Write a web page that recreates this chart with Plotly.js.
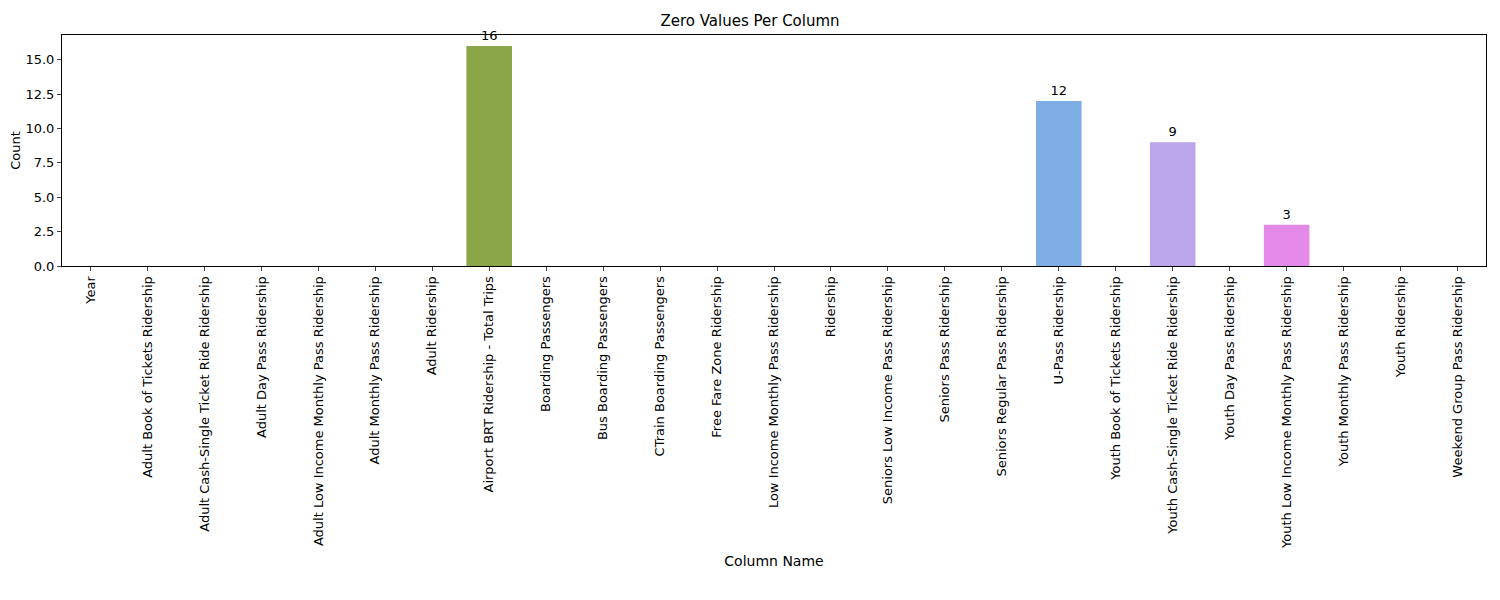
<!DOCTYPE html>
<html>
<head>
<script src="https://cdn.plot.ly/plotly-3.0.1.min.js"></script>
<style>body{margin:0;}</style>
</head>
<body>
<div id="chart" style="width:1500px;height:600px;"></div>
<script>
// column names and zero counts
var columns = ["Year", "Adult Book of Tickets Ridership", "Adult Cash-Single Ticket Ride Ridership",
    "Adult Day Pass Ridership", "Adult Low Income Monthly Pass Ridership", "Adult Monthly Pass Ridership",
    "Adult Ridership", "Airport BRT Ridership - Total Trips", "Boarding Passengers", "Bus Boarding Passengers",
    "CTrain Boarding Passengers", "Free Fare Zone Ridership", "Low Income Monthly Pass Ridership", "Ridership",
    "Seniors Low Income Pass Ridership", "Seniors Pass Ridership", "Seniors Regular Pass Ridership",
    "U-Pass Ridership", "Youth Book of Tickets Ridership", "Youth Cash-Single Ticket Ride Ridership",
    "Youth Day Pass Ridership", "Youth Low Income Monthly Pass Ridership", "Youth Monthly Pass Ridership",
    "Youth Ridership", "Weekend Group Pass Ridership"];
var zeroCounts = [0, 0, 0, 0, 0, 0, 0, 16, 0, 0, 0, 0, 0, 0, 0, 0, 0, 12, 0, 9, 0, 3, 0, 0, 0];

var colorMap = {
    "Airport BRT Ridership - Total Trips": "#8ba646",
    "U-Pass Ridership": "#7eaee5",
    "Youth Cash-Single Ticket Ride Ridership": "#bba5eb",
    "Youth Low Income Monthly Pass Ridership": "#e38ae8"
};
var barColors = columns.map(c => colorMap[c] || "#999");
var labels = zeroCounts.map(v => v > 0 ? String(v) : "");

var trace = {
    x: columns,
    y: zeroCounts,
    type: 'bar',
    width: 0.8,
    marker: {color: barColors},
    text: labels,
    textposition: 'outside',
    cliponaxis: false,
    textfont: {size: 13, color: '#000'}
};

var layout = {
    font: {family: 'DejaVu Sans', size: 12, color: '#000'},
    title: {text: 'Zero Values Per Column', x: 0.5, y: 0.975, font: {size: 15}},
    margin: {l: 62, r: 14, t: 35, b: 334},
    showlegend: false,
    plot_bgcolor: '#fff',
    xaxis: {
        title: {text: 'Column Name', standoff: 8},
        tickangle: -90,
        range: [-0.5, 24.5],
        showline: true, mirror: true, linecolor: '#000',
        ticks: 'outside', ticklen: 4,
        tickfont: {size: 13}
    },
    yaxis: {
        title: {text: 'Count', font: {size: 13}},
        range: [0, 16.8],
        tickvals: [0, 2.5, 5, 7.5, 10, 12.5, 15],
        ticktext: ['0.0', '2.5', '5.0', '7.5', '10.0', '12.5', '15.0'],
        showgrid: false, zeroline: false,
        showline: true, mirror: true, linecolor: '#000',
        ticks: 'outside', ticklen: 4,
        tickfont: {size: 13}
    }
};

Plotly.newPlot('chart', [trace], layout, {displayModeBar: false});
</script>
</body>
</html>
